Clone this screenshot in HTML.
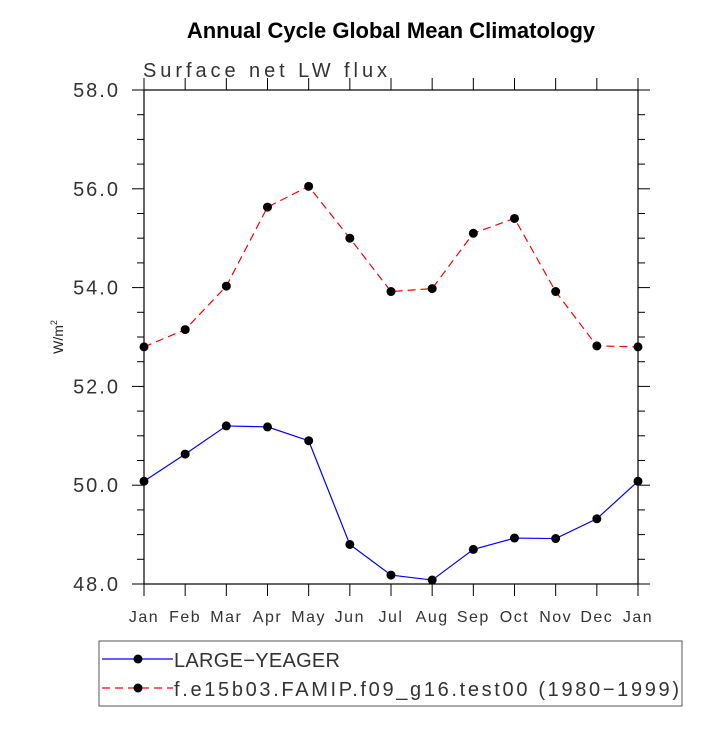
<!DOCTYPE html>
<html><head><meta charset="utf-8"><style>
body{margin:0;background:#fff;}
svg text{font-family:"Liberation Sans",sans-serif;}
</style></head><body>
<svg id="chart" width="727" height="727" xmlns="http://www.w3.org/2000/svg">
<rect width="727" height="727" fill="#fff"/>
<text x="391" y="38" text-anchor="middle" font-size="22" font-weight="bold">Annual Cycle Global Mean Climatology</text>
<text x="143" y="77" font-size="20" fill="#333" textLength="244" lengthAdjust="spacing">Surface net LW flux</text>
<text transform="translate(63,337) rotate(-90)" text-anchor="middle" font-size="14" fill="#222">W/m<tspan font-size="9" dy="-6">2</tspan></text>
<g id="axes"></g>
<g id="series"></g>
<g>
<rect x="99" y="641" width="583" height="65" fill="none" stroke="#555" stroke-width="1"/>
<line x1="102" y1="659" x2="173" y2="659" stroke="#00f" stroke-width="1.2"/>
<circle cx="138" cy="659" r="4.5" fill="#000"/>
<text x="174" y="667" font-size="20" fill="#333" textLength="166" lengthAdjust="spacing">LARGE−YEAGER</text>
<line x1="102" y1="688" x2="173" y2="688" stroke="#f00" stroke-width="1.2" stroke-dasharray="8,5"/>
<circle cx="138" cy="688" r="4.5" fill="#000"/>
<text x="174" y="696" font-size="20" fill="#333" textLength="505" lengthAdjust="spacing">f.e15b03.FAMIP.f09_g16.test00 (1980−1999)</text>
</g>
</svg>
<script>
const months=["Jan","Feb","Mar","Apr","May","Jun","Jul","Aug","Sep","Oct","Nov","Dec","Jan"];
const largeYeager=[50.08,50.63,51.2,51.18,50.9,48.8,48.18,48.08,48.7,48.93,48.92,49.32,50.08];
const famip=[52.8,53.15,54.03,55.63,56.05,55.0,53.92,53.98,55.1,55.4,53.92,52.82,52.8];
const yTicks=[48,50,52,54,56,58];
const NS="http://www.w3.org/2000/svg";
const L=144,R=638,T=90,B=584,yMin=48,yMax=58;
function xs(i){return L+(R-L)*i/(months.length-1);}
function ys(v){return B-(v-yMin)/(yMax-yMin)*(B-T);}
function mk(tag,attrs,parent){const e=document.createElementNS(NS,tag);for(const k in attrs)e.setAttribute(k,attrs[k]);parent.appendChild(e);return e;}
const ax=document.getElementById('axes');
let fr=mk('rect',{x:L,y:T,width:R-L,height:B-T,fill:'none',stroke:'#000','stroke-width':1.2},ax);


months.forEach((m,i)=>{
  const x=xs(i);
  let t=mk('line',{x1:x,y1:B,x2:x,y2:B+12,stroke:'#000','stroke-width':1},ax);
  
  
  let t2=mk('line',{x1:x,y1:T,x2:x,y2:T-12,stroke:'#000','stroke-width':1},ax);
  
  
  let lb=mk('text',{x:x,y:B+38,'text-anchor':'middle','font-size':16,fill:'#333','letter-spacing':1.5},ax);
  lb.textContent=m;
  
  
});
for(let v=yMin;v<=yMax+0.001;v+=0.5){
  const y=ys(v);const major=Math.abs(v-Math.round(v/2)*2)<0.001;
  const len=major?12:7;
  let t=mk('line',{x1:L-len,y1:y,x2:L,y2:y,stroke:'#000','stroke-width':1},ax);
  
  
  let t2=mk('line',{x1:R,y1:y,x2:R+len,y2:y,stroke:'#000','stroke-width':1},ax);
  
  
}
yTicks.forEach(v=>{
  let lb=mk('text',{x:L-24,y:ys(v)+7,'text-anchor':'end','font-size':20,fill:'#333','letter-spacing':2},ax);
  lb.textContent=v.toFixed(1);
  
  
});
const sg=document.getElementById('series');
function draw(data,color,dash,name){
  const pts=data.map((v,i)=>xs(i)+','+ys(v)).join(' ');
  const a={points:pts,fill:'none',stroke:color,'stroke-width':1.2};
  if(dash)a['stroke-dasharray']=dash;
  let pl=mk('polyline',a,sg);
  
  
  data.forEach((v,i)=>{
    let c=mk('circle',{cx:xs(i),cy:ys(v),r:4.5,fill:'#000'},sg);
    
    
  });
}
draw(famip,'#f00','8,5','famip');
draw(largeYeager,'#00f',null,'large-yeager');
</script>
</body></html>
